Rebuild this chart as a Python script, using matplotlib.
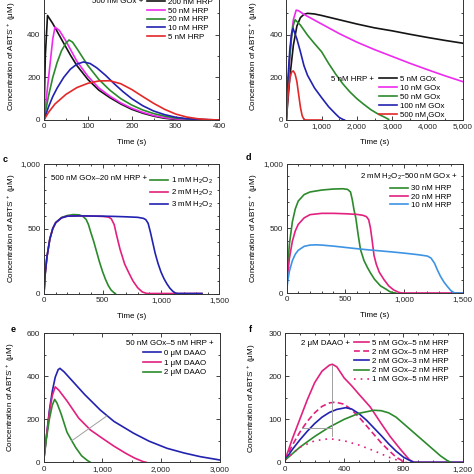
import matplotlib
matplotlib.use("Agg")
import matplotlib.pyplot as plt
from matplotlib.ticker import MultipleLocator, FuncFormatter

plt.rcParams["font.family"] = ["Liberation Sans", "DejaVu Sans"]
plt.rcParams["mathtext.default"] = "regular"

# ---- panel a: 500 nM GOx + varying HRP ----
a_t_200 = [0, 3, 8, 20, 40, 60, 75, 100, 125, 150, 175, 200, 225, 250, 275, 300, 350, 400]
a_v_200 = [0, 300, 490, 452, 378, 305, 255, 190, 140, 105, 75, 50, 32, 18, 8, 3, 0.5, 0]
a_t_50 = [0, 10, 20, 25, 35, 50, 75, 100, 125, 150, 175, 200, 225, 250, 275, 300, 350, 400]
a_v_50 = [0, 190, 380, 435, 420, 370, 275, 205, 150, 112, 80, 55, 36, 21, 11, 5, 1, 0]
a_t_20 = [0, 10, 20, 30, 40, 50, 57, 65, 75, 100, 125, 150, 175, 200, 225, 250, 275, 300, 350, 400]
a_v_20 = [0, 110, 200, 270, 325, 360, 375, 365, 335, 255, 190, 140, 100, 70, 47, 30, 18, 9, 2, 0]
a_t_10 = [0, 10, 20, 30, 45, 60, 75, 90, 105, 120, 140, 160, 180, 200, 225, 250, 275, 300, 325, 350, 400]
a_v_10 = [0, 60, 110, 150, 200, 238, 262, 272, 265, 245, 210, 170, 133, 100, 67, 42, 25, 13, 6, 3, 0]
a_t_5 = [0, 10, 25, 50, 75, 100, 125, 150, 175, 200, 225, 250, 275, 300, 325, 350, 375, 400]
a_v_5 = [0, 35, 75, 120, 152, 172, 183, 184, 170, 143, 110, 78, 50, 28, 14, 6, 2, 0]
a_labels = ["200 nM HRP", "50 nM HRP", "20 nM HRP", "10 nM HRP", "5 nM HRP"]

# ---- panel b: 5 nM HRP + varying GOx ----
b_t_5 = [0, 100, 200, 300, 400, 500, 600, 800, 1000, 1500, 2000, 2500, 3000, 3500, 4000, 4500, 5000]
b_v_5 = [0, 200, 350, 440, 480, 495, 500, 497, 490, 470, 450, 432, 418, 402, 387, 373, 360]
b_t_10 = [0, 50, 100, 150, 200, 280, 350, 500, 1000, 1500, 2000, 2500, 3000, 3500, 4000, 4500, 5000]
b_v_10 = [0, 150, 300, 400, 470, 515, 512, 495, 450, 405, 365, 330, 298, 266, 236, 207, 180]
b_t_50 = [0, 50, 100, 150, 200, 250, 400, 600, 800, 1000, 1200, 1400, 1600, 1800, 2000, 2200, 2400, 2600, 2800, 2900]
b_v_50 = [0, 170, 300, 390, 445, 470, 445, 398, 358, 320, 265, 215, 170, 132, 100, 73, 48, 28, 12, 3]
b_t_100 = [0, 50, 100, 150, 190, 300, 400, 500, 600, 800, 1000, 1200, 1400, 1500, 1600, 1650]
b_v_100 = [0, 200, 330, 405, 430, 380, 320, 255, 210, 150, 105, 62, 28, 12, 3, 0]
b_t_500 = [0, 50, 100, 150, 200, 250, 300, 350, 400, 450, 500, 550, 1000]
b_v_500 = [0, 130, 195, 225, 230, 215, 180, 120, 60, 20, 3, 0, 0]
b_labels = ["5 nM GOx", "10 nM GOx", "50 nM GOx", "100 nM GOx", "500 nM GOx"]

# ---- panel c: 500 nM GOx-20 nM HRP + varying H2O2 ----
c_t_1 = [0, 10, 25, 50, 75, 100, 150, 200, 250, 300, 330, 360, 380, 400, 425, 450, 475, 500, 525, 550, 575, 600, 610]
c_v_1 = [0, 150, 280, 420, 500, 545, 585, 600, 607, 605, 595, 570, 530, 470, 400, 320, 240, 170, 110, 60, 25, 5, 0]
c_t_2 = [0, 10, 25, 50, 75, 100, 150, 200, 300, 400, 500, 550, 575, 600, 620, 650, 690, 730, 760, 800, 840, 875, 900, 1350]
c_v_2 = [0, 150, 280, 420, 500, 545, 582, 595, 597, 596, 593, 588, 575, 530, 450, 340, 225, 150, 97, 45, 12, 1, 0, 0]
c_t_3 = [0, 10, 25, 50, 75, 100, 150, 200, 300, 400, 500, 600, 700, 800, 850, 870, 890, 910, 930, 950, 975, 1000, 1025, 1050, 1075, 1100, 1120, 1140, 1350]
c_v_3 = [0, 150, 280, 420, 500, 545, 582, 595, 597, 596, 595, 593, 590, 586, 578, 568, 540, 470, 390, 310, 230, 165, 115, 75, 42, 18, 5, 0, 0]
c_labels = ["1 mM H$_2$O$_2$", "2 mM H$_2$O$_2$", "3 mM H$_2$O$_2$"]

# ---- panel d: 2 mM H2O2-500 nM GOx + varying HRP ----
d_t_30 = [0, 10, 25, 50, 75, 100, 150, 200, 300, 400, 480, 520, 545, 560, 575, 590, 610, 630, 660, 690, 715, 750, 800, 850, 880, 910, 930]
d_v_30 = [0, 200, 380, 550, 650, 710, 760, 780, 795, 803, 805, 800, 780, 720, 640, 580, 450, 335, 250, 195, 155, 105, 55, 28, 10, 2, 0]
d_t_20 = [0, 10, 25, 50, 75, 100, 150, 200, 300, 400, 500, 600, 650, 680, 700, 715, 730, 745, 765, 790, 830, 870, 910, 950, 975, 1000, 1500]
d_v_20 = [0, 140, 270, 400, 480, 530, 580, 605, 615, 615, 612, 607, 600, 590, 565, 500, 400, 290, 220, 160, 103, 55, 25, 7, 1, 0, 0]
d_t_10 = [0, 10, 25, 50, 75, 100, 150, 200, 250, 300, 400, 500, 600, 700, 800, 900, 1000, 1100, 1150, 1200, 1230, 1260, 1283, 1310, 1340, 1368, 1400, 1425, 1450, 1500]
d_v_10 = [0, 90, 170, 250, 300, 330, 360, 370, 372, 370, 362, 352, 342, 333, 325, 317, 308, 298, 292, 285, 270, 230, 181, 130, 85, 52, 18, 3, 0, 0]
d_labels = ["30 nM HRP", "20 nM HRP", "10 nM HRP"]

# ---- panel e: 50 nM GOx-5 nM HRP + varying DAAO ----
e_t_0 = [0, 50, 100, 150, 200, 250, 280, 350, 500, 700, 966, 1200, 1535, 1800, 2105, 2400, 2675, 3000]
e_v_0 = [0, 120, 240, 330, 395, 430, 436, 420, 375, 315, 243, 190, 135, 98, 65, 43, 26, 11]
e_t_1 = [0, 50, 100, 150, 200, 260, 400, 600, 800, 1000, 1200, 1400, 1550, 1700, 1750]
e_v_1 = [0, 120, 230, 310, 350, 335, 285, 205, 150, 112, 75, 42, 20, 3, 0]
e_t_2 = [0, 50, 100, 150, 190, 230, 300, 400, 482, 550, 650, 750, 800]
e_v_2 = [0, 110, 200, 265, 292, 275, 225, 140, 100, 68, 30, 8, 0]
e_labels = ["0 \u03bcM DAAO", "1 \u03bcM DAAO", "2 \u03bcM DAAO"]
e_guide_t = [482, 1080]
e_guide_v = [100, 215]

# ---- panel f: 2 uM DAAO + varying GOx/HRP ----
f_t_55 = [0, 50, 100, 150, 200, 250, 300, 320, 350, 400, 450, 500, 575, 650, 710, 780, 840, 870, 1200]
f_v_55 = [5, 55, 100, 145, 185, 212, 226, 228, 222, 196, 178, 158, 129, 90, 60, 30, 6, 0, 0]
f_t_25 = [0, 50, 100, 150, 200, 250, 300, 340, 400, 450, 500, 550, 600, 650, 700, 750, 800, 820]
f_v_25 = [5, 40, 70, 95, 115, 130, 138, 140, 135, 122, 105, 85, 65, 45, 28, 12, 2, 0]
f_t_23 = [0, 50, 100, 150, 200, 250, 300, 350, 410, 450, 500, 550, 600, 650, 700, 750, 800, 850, 870, 1200]
f_v_23 = [5, 30, 52, 72, 90, 105, 116, 123, 127, 124, 113, 98, 80, 62, 43, 26, 12, 3, 0, 0]
f_t_22 = [0, 100, 200, 300, 400, 500, 600, 650, 700, 750, 800, 850, 900, 950, 1000, 1050, 1100, 1120]
f_v_22 = [5, 35, 60, 82, 100, 114, 121, 120, 115, 105, 90, 75, 60, 45, 30, 15, 3, 0]
f_t_15 = [0, 100, 200, 300, 400, 500, 600, 700, 800]
f_v_15 = [5, 35, 50, 55, 50, 40, 27, 12, 0]
f_labels = ["5 nM GOx\u20135 nM HRP", "2 nM GOx\u20135 nM HRP", "2 nM GOx\u20133 nM HRP",
            "2 nM GOx\u20132 nM HRP", "1 nM GOx\u20135 nM HRP"]
f_vguide_t = [317, 317]
f_vguide_v = [226, 62]
f_hguide_t = [115, 317]
f_hguide_v = [79, 79]

BLACK = "#141414"
MAGENTA = "#ee2aee"
PINK = "#e2207e"
GREEN = "#2c8a2c"
BLUE = "#2222b0"
RED = "#e42828"
SKY = "#3d94e4"
GREY = "#a0a0a0"

FS = 5.8
LFS = 5.7
LW = 1.2
YLABEL = "Concentration of ABTS$^{\\bullet+}$ (\u03bcM)"

W = 474.0


def place(left, right, top, bottom):
    # pixel box -> figure fraction
    return [left / W, 1 - bottom / W, (right - left) / W, (bottom - top) / W]


def thousands(x, pos):
    return f"{x:,.0f}"


def setup(ax, xlim, ylim, xmaj, xmin, ymaj, ymin, xlab_y):
    ax.set_xlim(*xlim)
    ax.set_ylim(*ylim)
    ax.xaxis.set_major_locator(MultipleLocator(xmaj))
    ax.xaxis.set_minor_locator(MultipleLocator(xmin))
    ax.yaxis.set_major_locator(MultipleLocator(ymaj))
    ax.yaxis.set_minor_locator(MultipleLocator(ymin))
    ax.xaxis.set_major_formatter(FuncFormatter(thousands))
    ax.yaxis.set_major_formatter(FuncFormatter(thousands))
    ax.tick_params(which="both", direction="in", top=True, right=True,
                   labelsize=FS, width=0.6, pad=2.5, colors="#222222")
    ax.tick_params(which="major", length=2.6)
    ax.tick_params(which="minor", length=1.4)
    for s in ax.spines.values():
        s.set_linewidth(0.7)
        s.set_color("#333333")
    ax.set_xlabel("Time (s)", fontsize=FS)
    ax.set_ylabel(YLABEL, fontsize=FS)
    ax.xaxis.set_label_coords(0.5, xlab_y)
    ax.yaxis.set_label_coords(-0.15, 0.5)


def legend(ax, handles, labels, x, y, **kw):
    opts = dict(loc="upper left", bbox_to_anchor=(x, y), frameon=False,
                fontsize=LFS, borderpad=0, borderaxespad=0, handlelength=2.3,
                handletextpad=0.35, labelspacing=0.15)
    opts.update(kw)
    return ax.legend(handles, labels, **opts)


fig = plt.figure(figsize=(4.74, 4.74), dpi=100)

ax_a = fig.add_axes(place(44, 219.5, -8, 120))
ax_b = fig.add_axes(place(286.3, 462.7, -8, 120))
ax_c = fig.add_axes(place(44, 219.5, 163.5, 293.5))
ax_d = fig.add_axes(place(286.5, 462.7, 163.5, 293))
ax_e = fig.add_axes(place(43.5, 219.5, 333, 462.3))
ax_f = fig.add_axes(place(285, 462.7, 333.3, 462.3))

# a
h = []
h += ax_a.plot(a_t_200, a_v_200, color=BLACK, lw=LW)
h += ax_a.plot(a_t_50, a_v_50, color=MAGENTA, lw=LW)
h += ax_a.plot(a_t_20, a_v_20, color=GREEN, lw=LW)
h += ax_a.plot(a_t_10, a_v_10, color=BLUE, lw=LW)
h += ax_a.plot(a_t_5, a_v_5, color=RED, lw=LW)
setup(ax_a, (0, 400), (0, 600), 100, 50, 200, 100, -0.15)
legend(ax_a, h, a_labels, 0.587, 0.95)
ax_a.text(0.565, 0.922, "500 nM GOx +", transform=ax_a.transAxes,
          fontsize=LFS, ha="right", va="center")

# b
h = []
h += ax_b.plot(b_t_5, b_v_5, color=BLACK, lw=LW)
h += ax_b.plot(b_t_10, b_v_10, color=MAGENTA, lw=LW)
h += ax_b.plot(b_t_50, b_v_50, color=GREEN, lw=LW)
h += ax_b.plot(b_t_100, b_v_100, color=BLUE, lw=LW)
h += ax_b.plot(b_t_500, b_v_500, color=RED, lw=LW)
setup(ax_b, (0, 5000), (0, 600), 1000, 500, 200, 100, -0.15)
legend(ax_b, h, b_labels, 0.524, 0.346, labelspacing=0.18)
ax_b.text(0.497, 0.318, "5 nM HRP +", transform=ax_b.transAxes,
          fontsize=LFS, ha="right", va="center")

# c
h = []
h += ax_c.plot(c_t_1, c_v_1, color=GREEN, lw=LW)
h += ax_c.plot(c_t_2, c_v_2, color=PINK, lw=LW)
h += ax_c.plot(c_t_3, c_v_3, color=BLUE, lw=LW)
setup(ax_c, (0, 1500), (0, 1000), 500, 100, 500, 100, -0.15)
legend(ax_c, h, c_labels, 0.604, 0.908, labelspacing=0.22)
ax_c.text(0.587, 0.881, "500 nM GOx\u201320 nM HRP +", transform=ax_c.transAxes,
          fontsize=LFS, ha="right", va="center")

# d
h = []
h += ax_d.plot(d_t_30, d_v_30, color=GREEN, lw=LW)
h += ax_d.plot(d_t_20, d_v_20, color=PINK, lw=LW)
h += ax_d.plot(d_t_10, d_v_10, color=SKY, lw=LW)
setup(ax_d, (0, 1500), (0, 1000), 500, 100, 500, 100, -0.15)
legend(ax_d, h, d_labels, 0.586, 0.836, labelspacing=0.11)
ax_d.text(0.968, 0.893, "2 mM H$_2$O$_2$\u2013500 nM GOx +", transform=ax_d.transAxes,
          fontsize=LFS, ha="right", va="center")

# e
h = []
h += ax_e.plot(e_t_0, e_v_0, color=BLUE, lw=LW)
h += ax_e.plot(e_t_1, e_v_1, color=PINK, lw=LW)
h += ax_e.plot(e_t_2, e_v_2, color=GREEN, lw=LW)
ax_e.plot(e_guide_t, e_guide_v, color=GREY, lw=0.7)
setup(ax_e, (0, 3000), (0, 600), 1000, 500, 200, 100, -0.15)
legend(ax_e, h, e_labels, 0.565, 0.871, labelspacing=0.26)
ax_e.text(0.965, 0.919, "50 nM GOx\u20135 nM HRP +", transform=ax_e.transAxes,
          fontsize=LFS, ha="right", va="center")

# f
h = []
h += ax_f.plot(f_t_55, f_v_55, color=PINK, lw=LW)
h += ax_f.plot(f_t_25, f_v_25, color=PINK, lw=LW, ls=(0, (3.5, 2)))
h += ax_f.plot(f_t_23, f_v_23, color=BLUE, lw=LW)
h += ax_f.plot(f_t_22, f_v_22, color=GREEN, lw=LW)
h += ax_f.plot(f_t_15, f_v_15, color=PINK, lw=LW, ls=(0, (1, 3)))
ax_f.plot(f_vguide_t, f_vguide_v, color=GREY, lw=0.7)
ax_f.plot(f_hguide_t, f_hguide_v, color=GREY, lw=0.7)
setup(ax_f, (0, 1200), (0, 300), 400, 100, 100, 50, -0.15)
legend(ax_f, h, f_labels, 0.387, 0.953, handlelength=1.9, labelspacing=0.2)
ax_f.text(0.368, 0.922, "2 \u03bcM DAAO +", transform=ax_f.transAxes,
          fontsize=LFS, ha="right", va="center")

for letter, px, py in [("c", 5, 159), ("d", 248, 158), ("e", 13, 330), ("f", 250, 330)]:
    fig.text(px / W, 1 - py / W, letter, fontsize=6.5, fontweight="bold",
             ha="center", va="center")

fig.savefig("out.png", dpi=100)
